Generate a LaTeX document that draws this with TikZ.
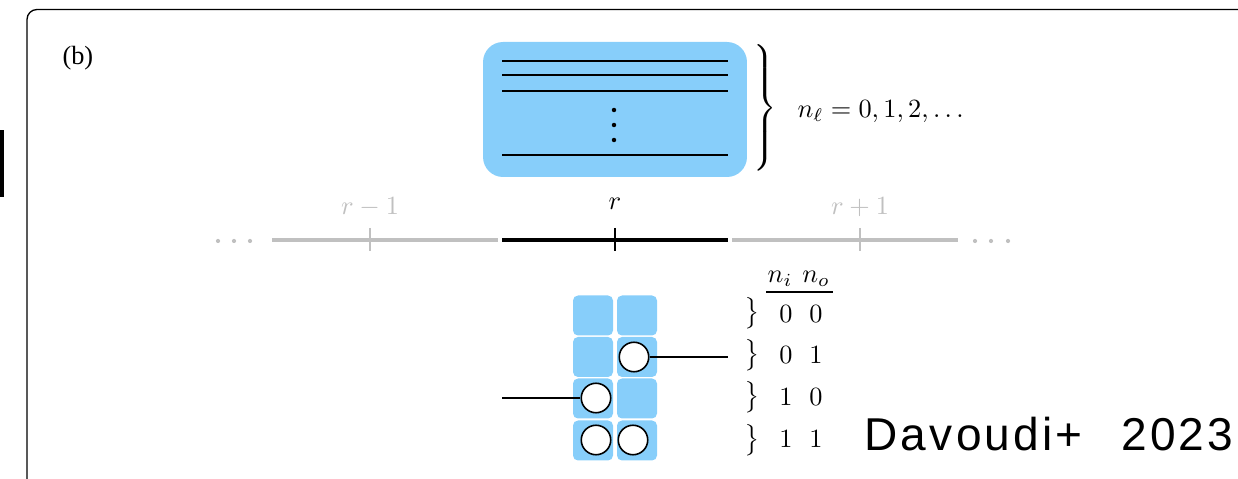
\documentclass[tikz,border=0pt]{standalone}
\usepackage{fontspec}
\newfontfamily\labfont{Liberation Serif}
\newfontfamily\davfont[LetterSpace=7,WordSpace=2.4]{Liberation Sans}
\definecolor{sky}{RGB}{135,206,250}
\definecolor{latgray}{RGB}{192,192,192}
\newcommand{\tallbrace}[1]{$\left.\vcenter{\hbox{\vrule height #1 width 0pt}}\right\}$}
\begin{document}
\begin{tikzpicture}[x=0.38pt,y=-0.38pt,
  cell/.style={fill=sky,rounded corners=1.9pt,minimum size=15.2pt,inner sep=0pt},
  occ/.style={circle,draw=black,fill=white,line width=0.6pt,minimum size=11.2pt,inner sep=0pt},
  lvl/.style={line width=0.5pt},
  latg/.style={draw=latgray,line width=1.15pt},
  latk/.style={draw=black,line width=1.15pt},
  tickg/.style={draw=latgray,line width=0.5pt},
  tickk/.style={draw=black,line width=0.5pt},
  txt/.style={inner sep=0pt,anchor=base},
  wire/.style={draw=black,line width=0.5pt}]
\useasboundingbox (0,0) rectangle (1238,479);
% outer frame
\begin{scope}
\clip (0,0) rectangle (1238,479);
\draw[line width=0.5pt,rounded corners=3.8pt] (27,9.5) rectangle (1270,489);
\end{scope}
\fill[black] (0,130) rectangle (3.5,197);
\node[txt,anchor=base west,font=\labfont] (lab) at (62,65) {(b)};
% level box
\node[fill=sky,rounded corners=7.6pt,minimum width=100.3pt,minimum height=51.3pt,inner sep=0pt] (box) at (615,109.5) {};
\foreach \yy/\nm in {61/la,75/lb,91/lc,155/ld}{
  \coordinate (\nm w) at (502,\yy);
  \coordinate (\nm e) at (728,\yy);
  \draw[lvl] (\nm w) -- (\nm e);
}
\foreach \yy in {110,125,140}{\fill (614,\yy) circle[radius=0.85pt];}
\node[inner sep=0pt,anchor=east] (bigbr) at (777,108) {\tallbrace{47pt}};
\node[txt,anchor=base west] (nl) at (797,118) {$n_\ell = 0, 1, 2, \ldots$};
% lattice
\coordinate (g1a) at (272,240); \coordinate (g1b) at (498,240);
\coordinate (k1a) at (502,240); \coordinate (k1b) at (728,240);
\coordinate (g2a) at (732,240); \coordinate (g2b) at (958,240);
\draw[latg] (g1a) -- (g1b);
\draw[latk] (k1a) -- (k1b);
\draw[latg] (g2a) -- (g2b);
\coordinate (t1a) at (370,228); \coordinate (t1b) at (370,251);
\coordinate (t2a) at (615,228); \coordinate (t2b) at (615,251);
\coordinate (t3a) at (860,228); \coordinate (t3b) at (860,251);
\draw[tickg] (t1a) -- (t1b);
\draw[tickk] (t2a) -- (t2b);
\draw[tickg] (t3a) -- (t3b);
\node[txt,text=latgray] (rm) at (370,215) {$r-1$};
\node[txt] (r0) at (615,210) {$r$};
\node[txt,text=latgray] (rp) at (860,215) {$r+1$};
\foreach \xx in {218,234,250,975,991,1008}{\fill[latgray] (\xx,241) circle[radius=0.8pt];}
% cells
\node[cell] (a1) at (593,315.5) {}; \node[cell] (b1) at (637,315.5) {};
\node[cell] (a2) at (593,357) {};   \node[cell] (b2) at (637,357) {};
\node[cell] (a3) at (593,398.5) {}; \node[cell] (b3) at (637,398.5) {};
\node[cell] (a4) at (593,440.5) {}; \node[cell] (b4) at (637,440.5) {};
\node[occ] (c01) at (634,357) {};
\node[occ] (c10) at (596,398) {};
\node[occ] (c11a) at (596,440) {};
\node[occ] (c11b) at (633,440) {};
\coordinate (wr) at (728,357);
\coordinate (wl) at (502,398);
\draw[wire] (c01) -- (wr);
\draw[wire] (wl) -- (c10);
% table
\node[txt] (hi) at (780,283) {$n_i$};
\node[txt] (ho) at (816,283) {$n_o$};
\coordinate (hl) at (766,292); \coordinate (hr) at (833,292);
\draw[line width=0.45pt] (hl) -- (hr);
\foreach \yy/\bb/\p/\q/\nm in {323/313/0/0/1,364/355/0/1/2,406/397/1/0/3,448/440/1/1/4}{
  \node[inner sep=0pt] (br\nm) at (751,\bb) {\tallbrace{11.8pt}};
  \node[txt] (ni\nm) at (786,\yy) {$\p$};
  \node[txt] (no\nm) at (816,\yy) {$\q$};
}
\node[txt,anchor=base west,font=\davfont\fontsize{17.5}{20}\selectfont] (dav) at (864,450) {Davoudi+ 2023};
\end{tikzpicture}
\end{document}
